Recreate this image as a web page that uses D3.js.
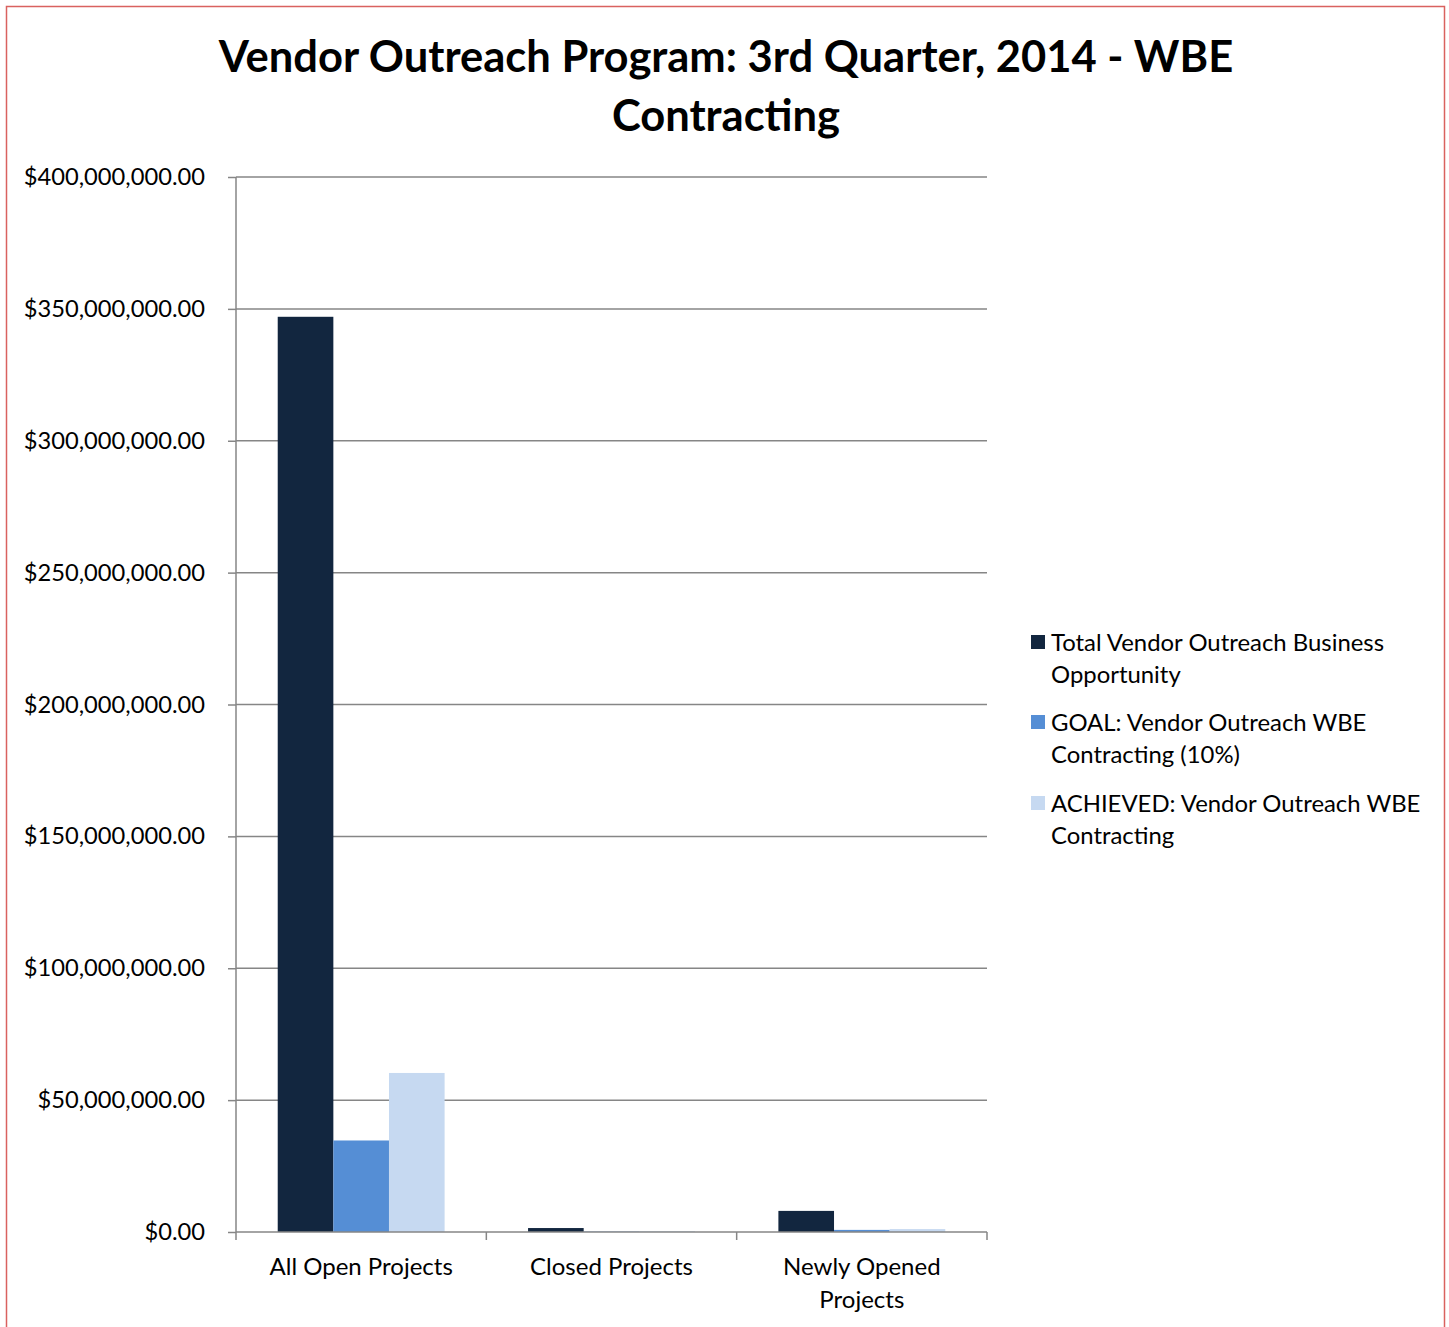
<!DOCTYPE html>
<html><head><meta charset="utf-8">
<script src="https://cdn.jsdelivr.net/npm/d3@7"></script>
<style>
html,body{margin:0;padding:0;background:#fff;}
svg{display:block;}
text{font-family:"Lato","Open Sans",sans-serif;fill:#000;}
</style></head>
<body>
<svg id="chart" width="1449" height="1327"></svg>
<script>
const titleLines = ["Vendor Outreach Program: 3rd Quarter, 2014 - WBE", "Contracting"];
const categories = ["All Open Projects", "Closed Projects", "Newly Opened Projects"];
const categoryLines = [["All Open Projects"], ["Closed Projects"], ["Newly Opened", "Projects"]];
const seriesNames = ["Total Vendor Outreach Business Opportunity", "GOAL: Vendor Outreach WBE Contracting (10%)", "ACHIEVED: Vendor Outreach WBE Contracting"];
const legendLines = [["Total Vendor Outreach Business", "Opportunity"], ["GOAL: Vendor Outreach WBE", "Contracting (10%)"], ["ACHIEVED: Vendor Outreach WBE", "Contracting"]];
const totalValues = [347000000, 1500000, 8000000];
const goalValues = [34700000, 150000, 800000];
const achievedValues = [60300000, 300000, 1100000];
const seriesColors = ["#12263F", "#558ED5", "#C6D9F1"];
const yTicks = [0, 50000000, 100000000, 150000000, 200000000, 250000000, 300000000, 350000000, 400000000];

(function () {
const series = [totalValues, goalValues, achievedValues];
const svg = d3.select("#chart");

// outer border
svg.append("rect").attr("x", 6.5).attr("y", 6.5).attr("width", 1438).attr("height", 1340)
  .attr("fill", "none").attr("stroke", "#D9625F").attr("stroke-width", 1.5);

// title
svg.append("g").selectAll("text").data(titleLines).join("text")
  .attr("x", 726).attr("y", (d, i) => 72 + i * 59)
  .attr("text-anchor", "middle").style("font-size", "43.5px").style("font-weight", "bold")
  .text(d => d);

const pL = 236, pR = 987, pT = 177, pB = 1232;
const x0 = d3.scaleBand().domain(categories).range([pL, pR]).paddingInner(0).paddingOuter(0);
const groupW = x0.bandwidth() / (1 + 1.5 / 3);
const x1 = d3.scaleBand().domain([0, 1, 2]).range([0, groupW]).padding(0);
const y = d3.scaleLinear().domain([0, 400000000]).range([pB, pT]);

// gridlines
svg.append("g").selectAll("line").data(yTicks.filter(d => d > 0)).join("line")
  .attr("x1", pL).attr("x2", pR).attr("y1", d => y(d)).attr("y2", d => y(d))
  .attr("stroke", "#868686").attr("stroke-width", 1.5);

// bars
const groups = svg.append("g").selectAll("g").data(categories).join("g")
  .attr("transform", d => `translate(${x0(d) + (x0.bandwidth() - groupW) / 2},0)`);
groups.selectAll("rect").data((c, ci) => series.map((s, si) => ({si, v: s[ci]}))).join("rect")
  .attr("x", d => x1(d.si)).attr("width", x1.bandwidth())
  .attr("y", d => y(d.v)).attr("height", d => pB - y(d.v))
  .attr("fill", d => seriesColors[d.si]);

// y axis
const fmt = d3.format(",.2f");
const yAxis = d3.axisLeft(y).tickValues(yTicks).tickSize(8).tickPadding(23).tickFormat(d => "$" + fmt(d));
const yg = svg.append("g").attr("transform", `translate(${pL},0)`).call(yAxis);
yg.select(".domain").attr("stroke", "#868686").attr("stroke-width", 1.5).attr("d", `M0,${pT}V${pB}`);
yg.selectAll(".tick line").attr("stroke", "#868686").attr("stroke-width", 1.5);
yg.selectAll(".tick text").style("font-size", "23.7px").style("font-family", "Lato, 'Open Sans', sans-serif").attr("fill", "#000");

// x axis
const xAxis = d3.axisBottom(x0).tickSize(0).tickFormat("");
const xg = svg.append("g").attr("transform", `translate(0,${pB})`).call(xAxis);
xg.select(".domain").attr("stroke", "#868686").attr("stroke-width", 1.5).attr("d", `M${pL},0H${pR}`);
const boundaries = categories.map(c => x0(c)).concat([pR]);
xg.selectAll(".bnd").data(boundaries).join("line").attr("class", "bnd")
  .attr("x1", d => d).attr("x2", d => d).attr("y1", 0).attr("y2", 8)
  .attr("stroke", "#868686").attr("stroke-width", 1.5);

// category labels
const cl = svg.append("g").selectAll("text").data(categories).join("text")
  .attr("text-anchor", "middle").style("font-size", "24px")
  .attr("transform", d => `translate(${x0(d) + x0.bandwidth() / 2},1275)`);
cl.selectAll("tspan").data((d, i) => categoryLines[i]).join("tspan")
  .attr("x", 0).attr("dy", (d, i) => i === 0 ? 0 : 33).text(d => d);

// legend
const lg = svg.append("g").selectAll("g").data(seriesNames).join("g")
  .attr("transform", (d, i) => `translate(1031,${643 + [0, 80, 161][i]})`);
lg.append("rect").attr("x", 0).attr("y", -8).attr("width", 14).attr("height", 14)
  .attr("fill", (d, i) => seriesColors[i]);
const lt = lg.append("text").attr("x", 20).attr("y", 8).style("font-size", "23.9px");
lt.selectAll("tspan").data((d, i) => legendLines[i]).join("tspan")
  .attr("x", 20).attr("dy", (d, i) => i === 0 ? 0 : 32).text(d => d);
})();
</script>
</body></html>
